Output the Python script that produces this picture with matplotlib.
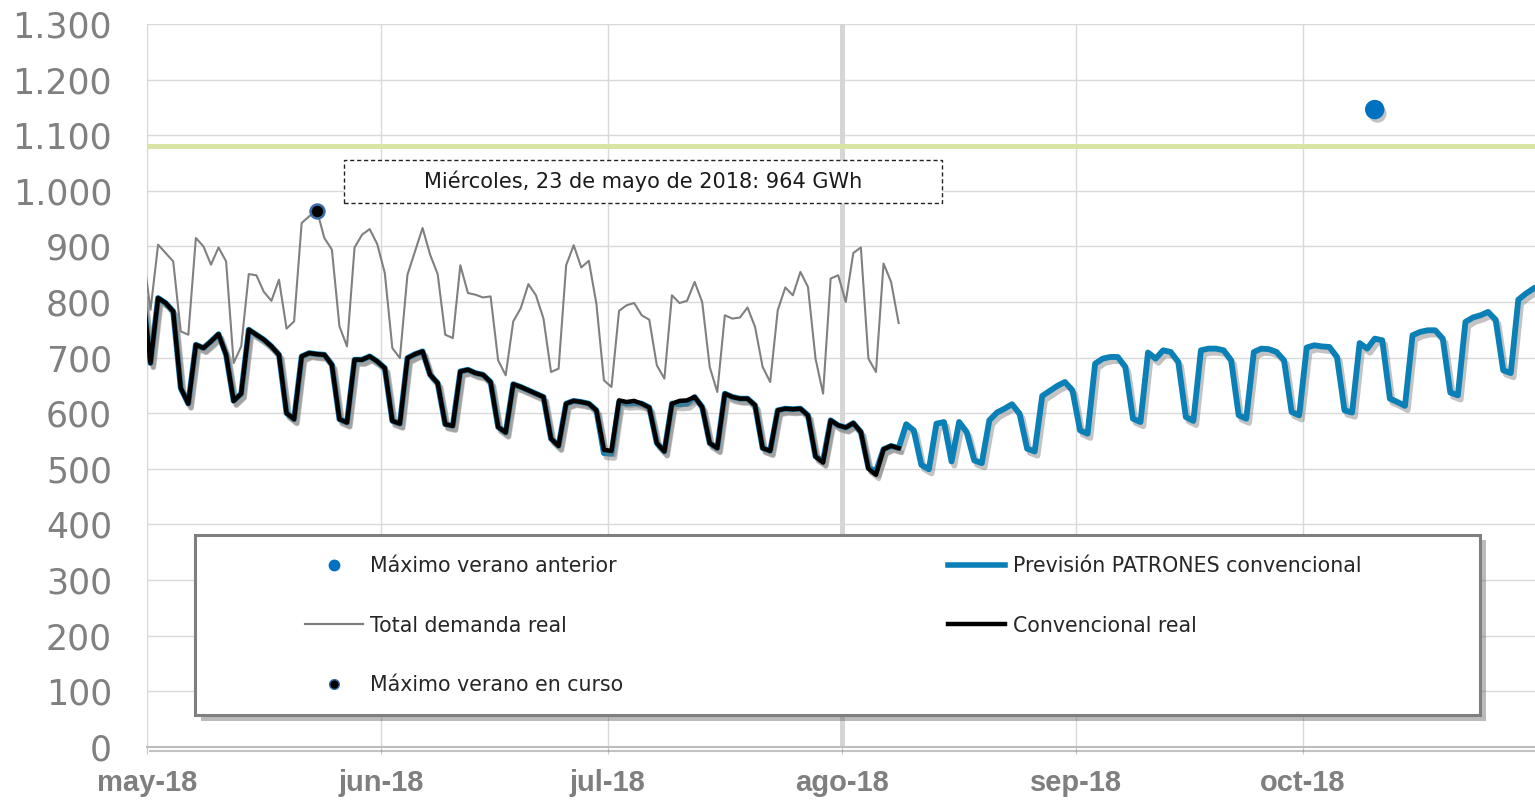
import pandas as pd
import matplotlib
matplotlib.use("Agg")
import matplotlib.pyplot as plt
import matplotlib.patheffects as pe
from matplotlib.lines import Line2D
from matplotlib.patches import Rectangle
from matplotlib.ticker import FuncFormatter

# demanda diaria en GWh, primer valor = 30-abr-2018
total_real = [888, 786, 903, 888, 873, 747, 741, 915, 900, 867, 898,
              873, 690, 720, 850, 848, 818, 802, 840, 752, 765,
              942, 954, 966, 915, 894, 756, 720, 898, 921, 931,
              904, 852, 717, 699, 849, 891, 933, 885, 850, 741,
              735, 866, 816, 813, 808, 810, 695, 668, 765, 789,
              832, 812, 770, 674, 680, 866, 902, 862, 874, 797,
              659, 647, 784, 794, 798, 776, 768, 686, 662, 812,
              798, 802, 836, 800, 683, 638, 776, 770, 772, 790,
              755, 683, 656, 785, 826, 812, 854, 827, 698, 635,
              842, 848, 800, 888, 898, 698, 674, 869, 836, 762]

conv_real = [812, 690, 807, 798, 783, 645, 617, 723, 717, 729, 742,
             705, 622, 635, 750, 741, 732, 720, 705, 600, 589,
             702, 708, 706, 705, 687, 589, 583, 696, 696, 702,
             693, 681, 586, 581, 699, 706, 711, 669, 654, 580,
             577, 675, 678, 672, 669, 656, 575, 565, 652, 647,
             641, 635, 629, 554, 541, 617, 622, 620, 617, 605,
             534, 532, 623, 620, 622, 617, 610, 546, 531, 617,
             622, 623, 629, 611, 546, 537, 635, 629, 626, 626,
             614, 537, 532, 605, 608, 607, 608, 596, 522, 511,
             587, 578, 574, 582, 566, 500, 489, 535, 541, 537]

prevision_may_ago = [812, 690, 807, 798, 783, 645, 617, 723, 717, 729, 742,
                     705, 622, 635, 750, 741, 732, 720, 705, 600, 589,
                     702, 708, 706, 705, 687, 589, 583, 696, 696, 702,
                     693, 681, 586, 581, 699, 706, 711, 669, 654, 580,
                     577, 675, 678, 672, 669, 656, 575, 565, 652, 647,
                     641, 635, 629, 554, 541, 617, 622, 620, 617, 605,
                     528, 527, 620, 617, 618, 617, 610, 546, 531, 617,
                     616, 617, 629, 611, 546, 537, 635, 629, 626, 626,
                     614, 537, 532, 605, 608, 607, 608, 596, 522, 514,
                     587, 578, 574, 582, 566, 502, 495, 535, 541, 537]

prevision_ago_oct = [580, 569, 507, 499, 581, 584, 513, 584, 566, 515,
                     510, 587, 601, 608, 616, 599, 536, 531, 631, 640,
                     649, 656, 641, 569, 563, 689, 698, 701, 701, 683,
                     590, 584, 709, 698, 713, 710, 692, 593, 586, 713,
                     716, 716, 713, 695, 596, 590, 710, 716, 715, 710,
                     695, 602, 596, 718, 722, 720, 719, 701, 605, 601,
                     726, 716, 734, 731, 626, 620, 613, 740, 746, 749,
                     749, 734, 637, 632, 764, 772, 776, 782, 768, 677,
                     672, 804, 815, 824]

prevision = prevision_may_ago + prevision_ago_oct

max_anterior_fecha = "2018-10-10 12:00"
max_anterior_valor = 1146
max_curso_fecha = "2018-05-23 12:00"
max_curso_valor = 964
nota_max = "Miércoles, 23 de mayo de 2018: 964 GWh"
limite = 1081

meses = ["2018-05-01", "2018-06-01", "2018-07-01", "2018-08-01", "2018-09-01", "2018-10-01"]
etiquetas_meses = ["may-18", "jun-18", "jul-18", "ago-18", "sep-18", "oct-18"]

fechas_real = pd.date_range("2018-04-30 12:00", periods=len(total_real), freq="D")
fechas_prev = pd.date_range("2018-04-30 12:00", periods=len(prevision), freq="D")

azul = "#0a80b6"
gris = "#808080"

fig = plt.figure(figsize=(15.35, 8.01), dpi=100)
ax = fig.add_axes([0.0956, 0.0678, 0.9044, 0.9023])

sombra = [pe.SimpleLineShadow(offset=(2, -3), shadow_color="#7a7a7a", alpha=0.45), pe.Normal()]
sombra_punto = [pe.SimplePatchShadow(offset=(2, -3), shadow_rgbFace="#7a7a7a", alpha=0.45), pe.Normal()]

ax.axvline(pd.Timestamp("2018-08-01"), color="#d6d6d6", lw=3.6, zorder=1)
ax.axhline(limite, color="#d7e4a4", lw=3.6, zorder=2)
ax.plot(fechas_prev, prevision, color=azul, lw=4.2, path_effects=sombra, zorder=3)
ax.plot(fechas_real, conv_real, color="black", lw=3.2, path_effects=sombra, zorder=4)
ax.plot(fechas_real, total_real, color=gris, lw=1.5, zorder=5)
ax.plot([pd.Timestamp(max_anterior_fecha)], [max_anterior_valor], "o", ms=13,
        color="#0070c0", path_effects=sombra_punto, zorder=6)
ax.plot([pd.Timestamp(max_curso_fecha)], [max_curso_valor], "o", ms=10,
        mfc="black", mec="#3d6ba8", mew=1.8, zorder=6)

# caja de la nota del maximo
ax.add_patch(Rectangle((0.1421, 0.7523), 0.4308, 0.0595, transform=ax.transAxes,
                       fc="white", ec="#222222", ls=(0, (3, 2)), lw=1.0, zorder=7))
ax.text(0.3575, 0.782, nota_max, transform=ax.transAxes, ha="center", va="center",
        fontsize=15, color="#1a1a1a", zorder=8)

ax.set_xlim(pd.Timestamp("2018-05-01"), pd.Timestamp("2018-10-31 17:00"))
ax.set_ylim(0, 1300)
ax.set_yticks(range(0, 1301, 100))
ax.yaxis.set_major_formatter(FuncFormatter(lambda v, p: f"{int(v):,}".replace(",", ".")))
ax.set_xticks(pd.to_datetime(meses))
ax.set_xticklabels(etiquetas_meses)
for t in ax.get_xticklabels():
    t.set_family(["Liberation Sans", "DejaVu Sans"])
    t.set_fontweight("bold")
    t.set_fontsize(21)
    t.set_color("#7f7f7f")
ax.tick_params(axis="y", length=0, pad=25, labelsize=25, labelcolor="#808080")
ax.tick_params(axis="x", length=5, color="#c8c8c8", pad=11)

ax.grid(True, color="#d9d9d9", lw=1.0)
ax.set_axisbelow(True)
ax.spines["top"].set_visible(False)
ax.spines["right"].set_visible(False)
ax.spines["left"].set_color("#d9d9d9")
ax.spines["bottom"].set_color("#bdbdbd")
ax.spines["bottom"].set_linewidth(1.5)
ax.spines["bottom"].set_path_effects(sombra)

# leyenda: marco propio y dos columnas
marco = Rectangle((0.0348, 0.0439), 0.9256, 0.2491, transform=ax.transAxes,
                  fc="white", ec="#7f7f7f", lw=2.2, zorder=9,
                  path_effects=[pe.SimplePatchShadow(offset=(4, -4), shadow_rgbFace="#555555", alpha=0.4), pe.Normal()])
ax.add_patch(marco)

h1 = [Line2D([], [], ls="none", marker="o", ms=7.5, color="#0070c0"),
      Line2D([], [], color=gris, lw=1.6),
      Line2D([], [], ls="none", marker="o", ms=7, mfc="black", mec="#3d6ba8", mew=1)]
l1 = ["Máximo verano anterior", "Total demanda real", "Máximo verano en curso"]
h2 = [Line2D([], [], color=azul, lw=4),
      Line2D([], [], color="black", lw=3.2)]
l2 = ["Previsión PATRONES convencional", "Convencional real"]

opts = dict(frameon=False, fontsize=14.8, labelspacing=1.93, handlelength=2.8,
            handletextpad=0.35, borderpad=0, borderaxespad=0, loc="upper left")
leg1 = ax.legend(h1, l1, bbox_to_anchor=(0.1141, 0.264), **opts)
leg1.set_zorder(10)
ax.add_artist(leg1)
leg2 = ax.legend(h2, l2, bbox_to_anchor=(0.5771, 0.264), **opts)
leg2.set_zorder(10)
for leg in (leg1, leg2):
    for t in leg.get_texts():
        t.set_color("#262626")

fig.savefig("out.png", dpi=100)
